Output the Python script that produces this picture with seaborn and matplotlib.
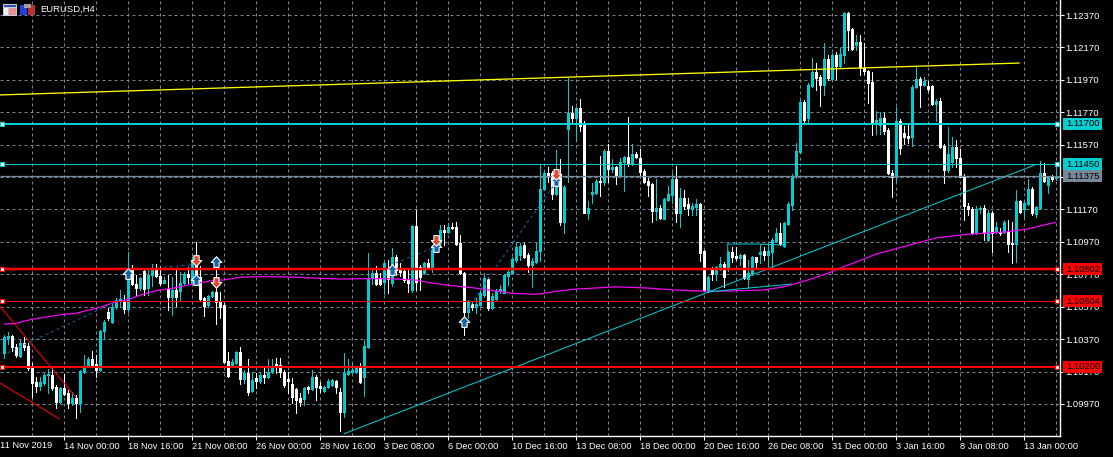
#!/usr/bin/env python3
import numpy as np
import pandas as pd
import matplotlib
matplotlib.use('Agg')
import matplotlib.pyplot as plt
from matplotlib.patches import Rectangle
from matplotlib.transforms import IdentityTransform
import seaborn as sns

# prices are in points (1e-5), one candle per row index
opens = [110282,110375,110389,110323,110266,110348,110327,110200,110105,110081,
         110097,110146,110148,110072,109980,110070,110039,109974,110009,109974,
         110169,110204,110247,110216,110179,110420,110539,110478,110566,110605,
         110605,110556,110811,110710,110683,110792,110683,110766,110796,110759,
         110718,110677,110632,110673,110667,110714,110772,110714,110838,110755,
         110622,110578,110636,110661,110601,110580,110235,110200,110220,110292,
         110122,110163,110052,110128,110114,110148,110138,110169,110216,110210,
         110165,110122,110093,110060,110005,109998,110077,110062,110138,110083,
         110052,110073,110087,110112,110046,109922,110155,110169,110169,110196,
         110138,110324,110745,110776,110745,110725,110801,110718,110879,110797,
         110792,110735,110673,111070,110813,110776,110842,110817,110916,110961,
         111043,111033,111064,111064,110961,110776,110539,110585,110570,110581,
         110642,110739,110560,110616,110667,110657,110760,110780,110858,110889,
         110949,110889,110827,110848,110915,111294,111393,111393,111265,111382,
         111094,111666,111767,111732,111794,111691,111150,111265,111269,111345,
         111341,111530,111419,111430,111382,111461,111491,111450,111512,111485,
         111407,111345,111327,111162,111179,111113,111228,111259,111356,111146,
         111244,111203,111173,111187,111203,110913,110673,110796,110771,110806,
         110833,110806,110907,110882,110868,110889,110741,110776,110874,110895,
         110911,110887,110909,110975,111022,110945,111081,111198,111379,111527,
         111836,111737,111932,112021,111986,111938,112097,111973,112124,112056,
         112124,112381,112282,112185,112206,112041,112027,111959,111698,111692,
         111733,111661,111393,111373,111718,111640,111624,111616,111924,111975,
         111938,111932,111932,111821,111840,111564,111414,111465,111558,111490,
         111379,111194,111173,111023,111171,111181,110982,111146,111033,111033,
         111033,111033,110966,110957,111223,111171,111204,111297,111142,111177,
         111393,111321,111369,111363]
closes = [110381,110389,110319,110272,110348,110323,110190,110101,110081,110107,
          110148,110155,110066,109984,110070,110031,109974,110009,109974,110173,
          110200,110247,110206,110179,110420,110478,110502,110570,110611,110617,
          110554,110755,110710,110683,110745,110677,110766,110796,110759,110718,
          110735,110632,110673,110628,110714,110772,110755,110858,110735,110615,
          110574,110636,110661,110601,110570,110231,110142,110231,110292,110122,
          110159,110046,110118,110112,110148,110138,110169,110200,110204,110169,
          110087,110112,110011,109994,109980,110070,110064,110138,110073,110066,
          110073,110114,110118,110073,109922,110163,110175,110179,110190,110108,
          110328,110745,110776,110710,110710,110838,110739,110879,110797,110786,
          110735,110714,111070,110725,110755,110842,110817,110920,110941,111043,
          111033,111064,111054,110957,110776,110539,110599,110570,110587,110653,
          110745,110560,110638,110669,110677,110766,110786,110862,110941,110947,
          110879,110827,110852,110915,111294,111393,111382,111263,111368,111094,
          111306,111763,111732,111794,111687,111150,111177,111275,111345,111337,
          111530,111419,111430,111382,111465,111491,111450,111512,111495,111399,
          111341,111321,111162,111177,111119,111232,111265,111356,111146,111244,
          111193,111177,111191,111203,110903,110673,110751,110771,110813,110833,
          110755,110907,110878,110868,110889,110745,110776,110874,110845,110907,
          110887,110911,110981,111022,110957,111085,111202,111379,111531,111836,
          111722,111938,112021,111984,111938,112097,111980,112124,112058,112128,
          112381,112278,112159,112206,112041,112027,111953,111706,111722,111733,
          111657,111393,111373,111718,111552,111620,111609,111928,111975,111938,
          111965,111912,111821,111840,111558,111414,111513,111558,111486,111373,
          111192,111173,111023,111173,111181,111023,111146,111023,111060,111023,
          111095,110957,110955,111223,111157,111208,111297,111146,111184,111393,
          111346,111369,111358,111375]
highs = [110395,110412,110395,110340,110364,110385,110344,110220,110138,110138,
         110159,110183,110200,110087,110076,110152,110056,110046,110025,110179,
         110272,110262,110297,110272,110426,110488,110560,110591,110622,110673,
         110642,110910,110827,110766,110755,110801,110796,110833,110833,110817,
         110755,110766,110755,110796,110786,110786,110817,110875,110971,110821,
         110632,110642,110669,110875,110663,110591,110292,110245,110299,110323,
         110179,110245,110169,110163,110159,110200,110245,110245,110251,110251,
         110179,110169,110128,110066,110035,110077,110083,110179,110149,110108,
         110083,110122,110126,110118,110066,110282,110245,110217,110200,110225,
         110365,110899,110807,110821,110776,110848,110858,110930,110889,110838,
         110807,110797,111074,111167,110827,110848,110862,110930,110998,111074,
         111074,111089,111089,111095,111013,110786,110611,110607,110622,110663,
         110776,110755,110653,110677,110704,110772,110797,110875,110971,110961,
         110961,110899,110869,110965,111444,111403,111434,111409,111537,111479,
         111321,111979,111808,111804,111855,111718,111224,111335,111356,111500,
         111541,111574,111479,111438,111485,111500,111738,111574,111526,111541,
         111421,111362,111335,111356,111197,111238,111317,111393,111438,111300,
         111290,111244,111207,111232,111212,110919,110759,110813,110821,110878,
         110848,110915,110940,110940,110895,110895,110858,110882,110878,110950,
         110940,110950,110991,111053,111084,111095,111219,111389,111583,111846,
         111846,111949,112103,112072,112000,112200,112124,112134,112144,112165,
         112391,112391,112288,112247,112247,112200,112031,112021,111778,111774,
         111768,111671,111414,111801,111727,111685,111692,111938,112052,111986,
         111986,111963,111938,111850,111856,111574,111681,111616,111599,111541,
         111389,111208,111184,111192,111192,111198,111167,111163,111095,111054,
         111105,111105,111095,111290,111229,111219,111356,111307,111194,111470,
         111455,111377,111383,111434]
lows = [110251,110340,110299,110262,110258,110303,110179,110015,110046,110056,
        110087,110039,110056,109943,109974,110025,109943,109963,109881,109922,
        110159,110196,110196,110138,110175,110369,110488,110471,110554,110566,
        110533,110539,110704,110636,110673,110642,110642,110698,110755,110704,
        110714,110550,110519,110574,110611,110704,110714,110704,110704,110611,
        110513,110566,110628,110463,110498,110225,110138,110196,110216,110093,
        110097,110025,110046,110066,110101,110101,110128,110163,110163,110138,
        110077,110035,109974,109916,109957,109964,110035,110056,109994,110046,
        110046,110066,110081,110035,109805,109892,110149,110159,110159,110101,
        110019,110317,110710,110704,110704,110649,110653,110698,110766,110760,
        110725,110663,110663,110673,110673,110770,110807,110786,110910,110951,
        110951,111023,111050,110951,110770,110395,110498,110550,110529,110574,
        110632,110550,110554,110611,110653,110653,110704,110776,110848,110858,
        110873,110786,110693,110841,110854,111290,111341,111234,111259,111074,
        111022,111341,111701,111598,111656,111146,111111,111207,111265,111253,
        111321,111341,111403,111327,111376,111286,111438,111444,111485,111378,
        111335,111253,111094,111105,111113,111109,111224,111207,111094,111063,
        111170,111136,111136,111136,110854,110669,110662,110734,110734,110796,
        110693,110792,110848,110858,110827,110738,110683,110765,110806,110837,
        110858,110806,110806,110969,110948,110941,111075,111167,111362,111521,
        111702,111702,111924,111908,111809,111877,111969,111969,111975,112041,
        112072,112154,112154,112154,112000,112006,111825,111630,111634,111636,
        111636,111389,111245,111342,111513,111574,111583,111564,111918,111805,
        111932,111903,111815,111718,111548,111332,111404,111434,111434,111369,
        111105,111136,111017,111019,111146,110982,110978,110910,111027,111013,
        111023,110906,110838,110848,111146,111126,111198,111136,111122,111171,
        111340,111274,111348,111352]

# moving average, read at some candles
ma_idx = [0,3,7,10,15,18,24,27,31,35,38,42,47,52,55,59,63,69,74,79,84,90,96,103,106,
          111,117,122,127,133,138,142,149,153,161,168,175,180,190,195,201,206,210,214,
          218,225,233,241,251,256,263]
ma_val = [110463,110467,110492,110504,110523,110529,110566,110591,110615,110648,110669,
          110683,110708,110731,110735,110751,110755,110755,110751,110745,110741,110743,
          110743,110735,110720,110702,110688,110671,110653,110646,110664,110677,110687,
          110693,110685,110673,110666,110666,110673,110693,110734,110776,110817,110854,
          110894,110941,110994,111017,111033,111050,111091]

yellow_idx = [-1, 254]
yellow_val = [111877, 112074]
diag_idx = [85, 258.3]
diag_val = [109785, 111450]
red_a_idx, red_a_val = [-1, 18], [110575, 110013]
red_b_idx, red_b_val = [-1, 14], [110100, 109877]
blue_dashes = [([1, 30], [110285, 110624]), ([40, 47], [110815, 110828]),
               ([98, 108], [110840, 110939]), ([116, 122], [110550, 110778]),
               ([123, 138], [110815, 111334])]
cyan_thin = [([181, 181, 188, 195], [110815, 110957, 110957, 110951]),
             ([176, 184, 197], [110661, 110680, 110710])]

up_idx = [31, 48, 53, 97, 108, 115, 138]
up_val = [110772, 110735, 110846, 110797, 110939, 110476, 111346]
down_idx = [48, 53, 108, 138]
down_val = [110858, 110723, 110982, 111389]

# level, line width in px, colour
levels = [(1.11700, 2, '#00CED1'), (1.11450, 1, '#00CED1'), (1.10802, 2.5, '#FF0000'),
          (1.10604, 1, '#FF0000'), (1.10200, 2, '#FF0000')]
bid = 1.11375

y_ticks = [1.12370, 1.12170, 1.11970, 1.11770, 1.11570, 1.11370, 1.11170, 1.10970,
           1.10770, 1.10570, 1.10370, 1.10170, 1.09970]
x_tick_idx = [15, 31, 47, 63, 79, 95, 111, 127, 143, 159, 175, 191, 207, 223, 239, 255]
x_tick_labels = ['14 Nov 00:00', '18 Nov 16:00', '21 Nov 08:00', '26 Nov 00:00', '28 Nov 16:00',
                 '3 Dec 08:00', '6 Dec 00:00', '10 Dec 16:00', '13 Dec 08:00', '18 Dec 00:00',
                 '20 Dec 16:00', '26 Dec 08:00', '31 Dec 00:00', '3 Jan 16:00', '8 Jan 08:00',
                 '13 Jan 00:00']

BULL = '#00CED1'
GRID = '#778899'
PX = 0.72  # one pixel in points at dpi 100

sns.set_theme(style='dark', rc={'figure.facecolor': 'black', 'axes.facecolor': 'black',
                                'lines.solid_capstyle': 'butt'})
plt.rcParams['font.family'] = ['Liberation Sans', 'DejaVu Sans']

df = pd.DataFrame({'open': opens, 'high': highs, 'low': lows, 'close': closes}) / 100000
df['idx'] = df.index
df['color'] = np.where(df['close'] >= df['open'], BULL, 'white')
ma = pd.DataFrame({'idx': ma_idx, 'val': np.array(ma_val) / 100000})

fig = plt.figure(figsize=(11.13, 4.57), dpi=100)
ax = fig.add_axes([0, 21 / 457, 1060 / 1113, 436 / 457])
ax.set_xlim(-0.925, 264.07)
ax.set_ylim(1.09772, 1.12463)

# grid
ax.set_axisbelow(True)
ax.set_yticks(y_ticks)
ax.set_yticklabels(['%.5f' % t for t in y_ticks], color='white', fontsize=6.8)
ax.yaxis.tick_right()
ax.set_xticks(x_tick_idx)
ax.set_xticklabels(x_tick_labels, color='white', fontsize=6.7, ha='left')
ax.tick_params(axis='both', color='white', length=3, width=PX, pad=1, right=True, bottom=True)
ax.hlines(y_ticks, -0.925, 264.07, colors=GRID, lw=PX, linestyles=(0, (3, 3)), zorder=0.5)
ax.vlines(np.arange(7, 264, 8), 1.09772, 1.12463, colors=GRID, lw=PX, linestyles=(0, (3, 3)), zorder=0.5)
ax.grid(False)

for name in ['top', 'left']:
    ax.spines[name].set_visible(False)
for name in ['right', 'bottom']:
    ax.spines[name].set_color('white')
    ax.spines[name].set_linewidth(PX * 1.4)

# candles: one pixel wick, three pixel body
body_low = df[['open', 'close']].min(axis=1)
body_high = np.maximum(df[['open', 'close']].max(axis=1), body_low + 0.00006)
ax.vlines(df['idx'], df['low'], df['high'], colors=df['color'], lw=PX, antialiased=False, zorder=2)
ax.vlines(df['idx'], body_low, body_high, colors=df['color'], lw=PX * 3, antialiased=False,
          capstyle='butt', zorder=3)

# indicator and trend lines
sns.lineplot(data=ma, x='idx', y='val', color='#FF00FF', lw=PX * 1.2, ax=ax, zorder=4, legend=False)
sns.lineplot(x=yellow_idx, y=np.array(yellow_val) / 100000, color='#FFFF00', lw=PX * 1.3, ax=ax, zorder=4)
sns.lineplot(x=diag_idx, y=np.array(diag_val) / 100000, color=BULL, lw=PX, ax=ax, zorder=4)
sns.lineplot(x=red_a_idx, y=np.array(red_a_val) / 100000, color='#FF0000', lw=PX, ax=ax, zorder=4)
sns.lineplot(x=red_b_idx, y=np.array(red_b_val) / 100000, color='#FF0000', lw=PX, ax=ax, zorder=4)
for xs, ys in blue_dashes:
    ax.plot(xs, np.array(ys) / 100000, color='#1C5FA8', lw=PX, ls=(0, (3, 3)), zorder=4)
for xs, ys in cyan_thin:
    ax.plot(xs, np.array(ys) / 100000, color=BULL, lw=PX, zorder=4)
ax.set_xlabel('')
ax.set_ylabel('')

# horizontal levels with anchors and price boxes
ax.axhline(bid, color=GRID, lw=PX * 1.3, zorder=5)
for price, width, col in levels:
    ax.axhline(price, color=col, lw=PX * width, zorder=5)
    ax.plot([-0.45, 263.3], [price, price], ls='none', marker='s', ms=3.2, mfc='white', mec=col,
            mew=0.8, zorder=6, clip_on=False)
for price, col in [(bid, GRID)] + [(p, c) for p, _, c in levels]:
    ax.add_patch(Rectangle((1063 / 1060, price - 0.00037), 39 / 1060, 0.00074, facecolor=col, linewidth=0,
                           transform=ax.get_yaxis_transform(), clip_on=False, zorder=9))
    ax.text(1066 / 1060, price, '%.5f' % price, color='black', fontsize=6.8, va='center', ha='left',
            transform=ax.get_yaxis_transform(), clip_on=False, zorder=10)

# trade arrows
arrow_up = [(-0.55, 0), (0, 0.6), (0.55, 0), (0.27, 0), (0.27, -0.5), (-0.27, -0.5), (-0.27, 0), (-0.55, 0)]
arrow_down = [(x, -y) for x, y in arrow_up]
ax.scatter(up_idx, np.array(up_val) / 100000, marker=arrow_up, s=70, c='#1565A5', edgecolors='white',
           linewidths=0.8, zorder=7)
ax.scatter(down_idx, np.array(down_val) / 100000, marker=arrow_down, s=70, c='#E0492A', edgecolors='white',
           linewidths=0.8, zorder=7)

# first date label and title
ax.text(0, -9 / 436, '11 Nov 2019', color='white', fontsize=6.7, ha='left', va='center',
        transform=ax.transAxes, clip_on=False)
ax.text(40 / 1060, 1 - 9 / 436, 'EURUSD,H4', color='white', fontsize=6.8, ha='left', va='center',
        transform=ax.transAxes, zorder=10)


def icon(x, y, w, h, col):
    # y counted from the top of the picture, in pixels
    fig.add_artist(Rectangle((x, 457 - y - h), w, h, facecolor=col, linewidth=0,
                             transform=IdentityTransform(), antialiased=False))


icon(3, 4, 14, 12, '#C8C8D8')
icon(4, 5, 12, 2, '#3050B0')
icon(4, 8, 4, 7, '#F0F0F0')
icon(9, 8, 7, 7, '#E89090')
icon(20, 5, 7, 10, '#2040E0')
icon(28, 5, 7, 10, '#C03030')
icon(24, 4, 7, 4, '#A0A0A0')

fig.savefig('out.png', dpi=100, facecolor='black')
